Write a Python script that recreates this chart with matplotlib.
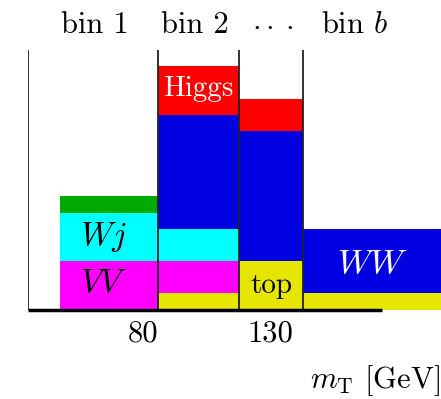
import matplotlib
matplotlib.use('Agg')  # no UI backend
import numpy as np
import matplotlib.pyplot as plt

plt.rcParams['font.family'] = 'serif'
plt.rcParams['font.serif'] = ['cmr10']
plt.rcParams['mathtext.fontset'] = 'cm'
plt.rcParams['axes.unicode_minus'] = False

# bin edges in GeV (schematic), first bar starts a bit right of the first edge
edges = [34.7, 85.9, 117.8, 143.0, 197.3]
bar_left = [47.3, 85.9, 117.8, 143.0]
bin_labels = ['bin 1', 'bin 2', r'$\cdot\cdot\cdot$', r'bin $b$']
bin_label_x = [61.1, 100.5, 130.8, 163.5]
ticks = [80, 130]

# stacked components per bin (arbitrary units)
top_h   = [0, 17, 49, 17]
vv_h    = [49, 32, 0, 0]
wj_h    = [48, 32, 0, 0]
ww_h    = [0, 114, 130, 64]
green_h = [17, 0, 0, 0]
higgs_h = [0, 49, 32, 0]
colors = ['#e5e500', '#ff00ff', '#00ffff', '#0000e0', '#00aa00', '#ff0000']

fig = plt.figure(figsize=(4.41, 3.99), dpi=100)
ax = fig.add_axes([28 / 441, 89 / 399, 413 / 441, 260 / 399])
ax.set_xlim(edges[0], edges[-1])
ax.set_ylim(0, 260)

left = np.array(bar_left)
right = np.array(edges[1:])
bottom = np.zeros(4)
for h, c in zip([top_h, vv_h, wj_h, ww_h, green_h, higgs_h], colors):
    h = np.array(h, dtype=float)
    ax.bar(left, h, width=right - left, bottom=bottom, align='edge', color=c, linewidth=0)
    bottom += h

ax.vlines(edges[:-1], 0, 260, color='#222222', linewidth=1.3)
ax.hlines(0, edges[0], 174, color='black', linewidth=2.5, clip_on=False)

for x, s in zip(bin_label_x, bin_labels):
    ax.text(x, 277, s, ha='center', va='baseline', fontsize=22, clip_on=False)

ax.text(101.7, 221, 'Higgs', color='white', ha='center', va='center', fontsize=21)
ax.text(64.3, 73, r'$Wj$', color='black', ha='center', va='center', fontsize=24)
ax.text(64.3, 27, r'$VV$', color='black', ha='center', va='center', fontsize=24)
ax.text(130.4, 24, 'top', color='black', ha='center', va='center', fontsize=21)
ax.text(170.2, 46, r'$WW$', color='white', ha='center', va='center', fontsize=25)

ax.set_xticks(ticks)
ax.set_xticklabels([str(t) for t in ticks], fontsize=22)
ax.tick_params(axis='x', length=0, pad=7)
ax.set_yticks([])
for s in ax.spines.values():
    s.set_visible(False)

fig.text(440 / 441, 1 - 381 / 399, r'$m_{\rm T}$ [GeV]', ha='right', va='center', fontsize=22)

plt.savefig('out.png', dpi=100)
